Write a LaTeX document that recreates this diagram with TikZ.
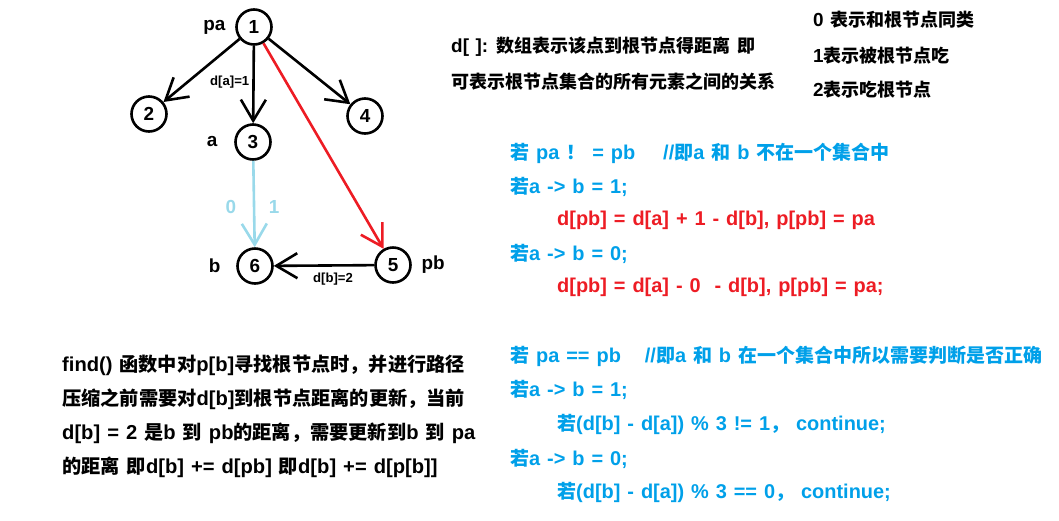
\documentclass[tikz,border=0pt]{standalone}
\usepackage{fontspec}
\setmainfont{Liberation Sans}[Scale=1.05, WordSpace=1.25]
\newfontfamily\cjkfont{Noto Sans CJK SC}
% switch to the CJK family for CJK characters
\XeTeXinterchartokenstate=1
\newXeTeXintercharclass\cjkClass
\count255=0
\loop\ifnum\count255<256 \XeTeXcharclass\count255=0 \advance\count255 by 1 \repeat
\count255="3000
\loop\ifnum\count255<"A000 \XeTeXcharclass\count255=\cjkClass \advance\count255 by 1 \repeat
\count255="FF00
\loop\ifnum\count255<"FFF0 \XeTeXcharclass\count255=\cjkClass \advance\count255 by 1 \repeat
\XeTeXinterchartoks 0 \cjkClass = {\begingroup\cjkfont}
\XeTeXinterchartoks 4095 \cjkClass = {\begingroup\cjkfont}
\XeTeXinterchartoks \cjkClass 0 = {\endgroup}
\XeTeXinterchartoks \cjkClass 4095 = {\endgroup}
\usetikzlibrary{arrows.meta, positioning}
\definecolor{codeBlue}{RGB}{0,160,233}
\definecolor{codeRed}{RGB}{237,28,36}
\definecolor{edgeBlue}{RGB}{153,217,234}
\tikzset{
    setNode/.style={
        circle,
        draw=black,
        fill=white,
        line width=2.6pt,
        inner sep=0pt,
        minimum size=35pt,
        font=\fontsize{18}{18}\selectfont\bfseries
    },
    tag/.style={font=\fontsize{18}{18}\selectfont\bfseries},
    edgeTag/.style={font=\fontsize{12.5}{12.5}\selectfont\bfseries, inner sep=1pt},
    txt/.style={anchor=west, inner sep=0pt, font=\fontsize{18}{18}\selectfont\bfseries},
    codeTxt/.style={txt, font=\fontsize{19}{19}\selectfont\bfseries},
    findTxt/.style={txt, font=\fontsize{19.2}{19.2}\selectfont\bfseries},
    link/.style={-{Straight Barb[length=21pt, width=25pt]}, line width=2.6pt}
}

\begin{document}
\begin{tikzpicture}[x=1pt, y=-1pt]
    \useasboundingbox (0,0) rectangle (1059,520);

    % Tree nodes
    \node[setNode, label={[tag, label distance=6pt]left:pa}] (v1) at (254,27) {1};
    \node[setNode] (v2) at (149,114) {2};
    \node[setNode, label={[tag, label distance=13pt]left:a}] (v3) at (253,142) {3};
    \node[setNode] (v4) at (365,116) {4};
    \node[setNode, label={[tag, label distance=6pt]right:pb}] (v5) at (393,265) {5};
    \node[setNode, label={[tag, label distance=12pt]left:b}] (v6) at (255,266) {6};

    % Edges
    \draw[link] (v1) -- (v2);
    \draw[link] (v1) -- (v3) node[edgeTag, pos=0.47, left=2pt] (da) {d[a]=1};
    \draw[link] (v1) -- (v4);
    \draw[link, draw=codeRed] (v1) -- (v5);
    \draw[link, draw=edgeBlue] (v3) -- (v6)
        node[tag, text=edgeBlue, pos=0.53, left=13pt] (zero) {0}
        node[tag, text=edgeBlue, pos=0.53, right=10pt] (one) {1};
    \draw[link] (v5) -- (v6) node[edgeTag, pos=0.41, below=5pt] (db) {d[b]=2};

    % Notes on d[]
    \node[txt] (note1) at (451,47) {d[\ ]: 数组表示该点到根节点得距离 即};
    \node[txt] (note2) at (451,82) {可表示根节点集合的所有元素之间的关系};
    \node[txt] (rel0) at (813,20) {0 表示和根节点同类};
    \node[txt] (rel1) at (813,56) {1表示被根节点吃};
    \node[txt] (rel2) at (813,90) {2表示吃根节点};

    % Different sets
    \node[codeTxt, text=codeBlue] (ne) at (510,153) {若 pa ！ = pb\hspace{28pt}//即a 和 b 不在一个集合中};
    \node[codeTxt, text=codeBlue] (ne1) at (510,187) {若a -> b = 1;};
    \node[codeTxt, text=codeRed] (ne1r) at (557,220) {d[pb] = d[a] + 1 - d[b], p[pb] = pa};
    \node[codeTxt, text=codeBlue] (ne0) at (510,254) {若a -> b = 0;};
    \node[codeTxt, text=codeRed] (ne0r) at (557,287) {d[pb] = d[a] - 0\ \ - d[b], p[pb] = pa;};

    % Same set
    \node[codeTxt, text=codeBlue] (eq) at (510,356) {若 pa == pb\hspace{24pt}//即a 和 b 在一个集合中所以需要判断是否正确};
    \node[codeTxt, text=codeBlue] (eq1) at (510,390) {若a -> b = 1;};
    \node[codeTxt, text=codeBlue] (eq1r) at (557,424) {若(d[b] - d[a]) \% 3 != 1，\ continue;};
    \node[codeTxt, text=codeBlue] (eq0) at (510,459) {若a -> b = 0;};
    \node[codeTxt, text=codeBlue] (eq0r) at (557,492) {若(d[b] - d[a]) \% 3 == 0，\ continue;};

    % find()
    \node[findTxt] (find1) at (62,365) {find() 函数中对p[b]寻找根节点时，并进行路径};
    \node[findTxt] (find2) at (62,399) {压缩之前需要对d[b]到根节点距离的更新，当前};
    \node[findTxt] (find3) at (62,433) {d[b] = 2 是b 到 pb的距离，需要更新到b 到 pa};
    \node[findTxt] (find4) at (62,467) {的距离 即d[b]\ += d[pb] 即d[b]\ += d[p[b]]};
\end{tikzpicture}
\end{document}
